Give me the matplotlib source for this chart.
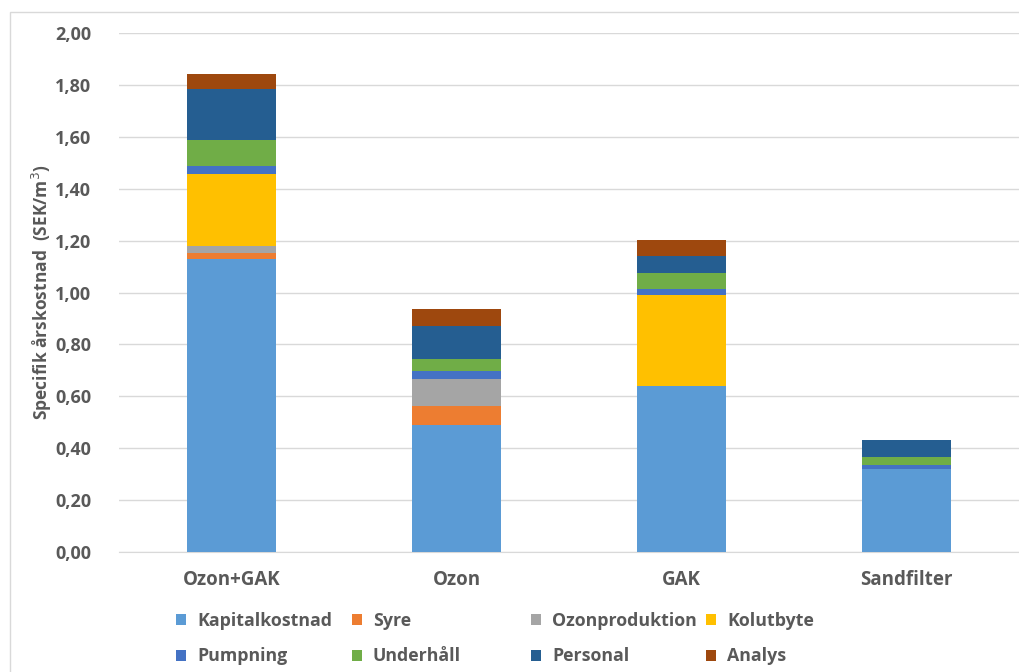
import numpy as np
import matplotlib.pyplot as plt
from matplotlib.patches import Rectangle, Patch

plt.rcParams['font.family'] = ['Open Sans', 'DejaVu Sans']

# Annual specific cost per treatment option (SEK/m3), one list per cost item
options = ["Ozon+GAK", "Ozon", "GAK", "Sandfilter"]
kapitalkostnad = [1.128, 0.489, 0.640, 0.320]
syre = [0.024, 0.075, 0.0, 0.0]
ozonproduktion = [0.028, 0.103, 0.0, 0.0]
kolutbyte = [0.275, 0.0, 0.350, 0.0]
pumpning = [0.032, 0.032, 0.023, 0.015]
underhall = [0.101, 0.045, 0.062, 0.032]
personal = [0.197, 0.128, 0.066, 0.066]
analys = [0.057, 0.063, 0.060, 0.0]

series = [
    ("Kapitalkostnad", kapitalkostnad, "#5B9BD5"),
    ("Syre", syre, "#ED7D31"),
    ("Ozonproduktion", ozonproduktion, "#A5A5A5"),
    ("Kolutbyte", kolutbyte, "#FFC000"),
    ("Pumpning", pumpning, "#4472C4"),
    ("Underhåll", underhall, "#70AD47"),
    ("Personal", personal, "#255E91"),
    ("Analys", analys, "#9E480E"),
]

text_col = "#595959"
W, H = 1020, 672
fig = plt.figure(figsize=(W / 100, H / 100), dpi=100)
ax = fig.add_axes([119 / W, 1 - 552 / H, 900 / W, 519 / H])

x = np.arange(len(options))
bottom = np.zeros(len(options))
for name, vals, col in series:
    vals = np.array(vals)
    ax.bar(x, vals, 0.396, bottom=bottom, color=col, label=name, zorder=3)
    bottom += vals

ax.set_xlim(-0.5, 3.5)
ax.set_ylim(0, 2.0)
yt = np.arange(0, 2.01, 0.2)
ax.set_yticks(yt)
ax.set_yticklabels([f"{v:.2f}".replace(".", ",") for v in yt])
ax.set_xticks(x)
ax.set_xticklabels(options)
ax.tick_params(axis="both", length=0, labelcolor=text_col)
ax.tick_params(axis="y", pad=20, labelsize=13)
ax.tick_params(axis="x", pad=13, labelsize=13.5)
for lbl in ax.get_xticklabels() + ax.get_yticklabels():
    lbl.set_fontweight("bold")
ax.grid(axis="y", color="#D9D9D9", linewidth=1, zorder=0)
for s in ["top", "right", "left"]:
    ax.spines[s].set_visible(False)
ax.spines["bottom"].set_color("#D9D9D9")
ax.set_ylabel("Specifik årskostnad  (SEK/m$^3$)", fontsize=12.5, color=text_col,
              fontweight="bold")
ax.yaxis.set_label_coords(-65 / 900, 0.5)

# chart area frame
fig.add_artist(Rectangle((10 / W, -0.1), 1.2, 1 - 12 / H + 0.1, transform=fig.transFigure,
                         fill=False, edgecolor="#D9D9D9", linewidth=1))

# legend laid out in four equal-width columns, two rows each
col_x = [176, 352, 531, 706]
for c in range(4):
    items = [series[c], series[c + 4]]
    handles = [Patch(facecolor=col, label=name) for name, _, col in items]
    leg = fig.legend(handles=handles, loc="upper left",
                     bbox_to_anchor=(col_x[c] / W, 1 - 612 / H), frameon=False,
                     handlelength=0.56, handleheight=0.56, handletextpad=0.62,
                     labelspacing=0.98, borderaxespad=0, borderpad=0,
                     prop={"size": 12.8, "weight": "bold"})
    for t in leg.get_texts():
        t.set_color(text_col)

fig.savefig("out.png", dpi=100)
